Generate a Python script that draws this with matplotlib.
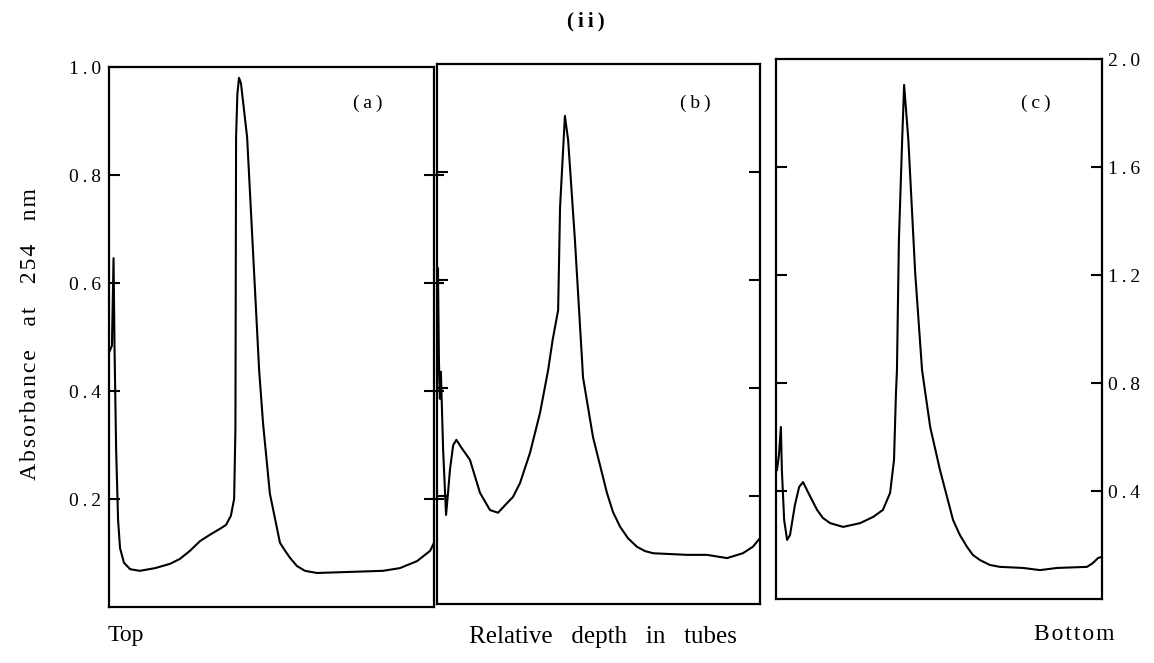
import matplotlib
matplotlib.use("Agg")
import matplotlib.pyplot as plt
import numpy as np

plt.rcParams['font.family'] = ['Liberation Serif', 'DejaVu Serif']

# ---- data (relative depth 0..1, absorbance) ----
a_x = [0.000, 0.009, 0.014, 0.017, 0.022, 0.028, 0.034, 0.046, 0.065, 0.095, 0.142, 0.188,
       0.218, 0.249, 0.280, 0.311, 0.342, 0.360, 0.375, 0.385, 0.389, 0.390, 0.391, 0.395,
       0.400, 0.406, 0.425, 0.462, 0.474, 0.495, 0.526, 0.542, 0.557, 0.578, 0.603, 0.640,
       0.742, 0.843, 0.895, 0.948, 0.988, 1.000]
a_y = [0.471, 0.484, 0.646, 0.480, 0.290, 0.160, 0.109, 0.082, 0.070, 0.067, 0.072, 0.080,
       0.089, 0.104, 0.122, 0.134, 0.145, 0.152, 0.169, 0.200, 0.330, 0.600, 0.870, 0.950,
       0.980, 0.970, 0.870, 0.438, 0.340, 0.210, 0.119, 0.104, 0.091, 0.076, 0.067, 0.063,
       0.065, 0.067, 0.072, 0.085, 0.104, 0.119]

b_x = [0.000, 0.003, 0.006, 0.009, 0.012, 0.019, 0.028, 0.034, 0.040, 0.050, 0.060, 0.075,
       0.102, 0.133, 0.164, 0.189, 0.217, 0.235, 0.257, 0.288, 0.319, 0.344, 0.358, 0.375,
       0.381, 0.396, 0.406, 0.427, 0.449, 0.452, 0.483, 0.526, 0.545, 0.567, 0.591, 0.619,
       0.644, 0.669, 0.774, 0.836, 0.898, 0.947, 0.978, 1.000]
b_y = [0.396, 0.622, 0.450, 0.380, 0.430, 0.285, 0.165, 0.205, 0.248, 0.294, 0.304, 0.290,
       0.267, 0.206, 0.174, 0.169, 0.187, 0.198, 0.224, 0.280, 0.354, 0.433, 0.489, 0.544,
       0.735, 0.904, 0.859, 0.674, 0.452, 0.420, 0.309, 0.206, 0.170, 0.143, 0.122, 0.106,
       0.098, 0.094, 0.091, 0.091, 0.085, 0.094, 0.106, 0.122]

c_x = [0.003, 0.009, 0.015, 0.018, 0.025, 0.034, 0.043, 0.058, 0.071, 0.083, 0.098, 0.126,
       0.144, 0.166, 0.206, 0.258, 0.298, 0.328, 0.350, 0.362, 0.368, 0.371, 0.377, 0.387,
       0.393, 0.406, 0.427, 0.448, 0.473, 0.503, 0.543, 0.564, 0.586, 0.604, 0.626, 0.656,
       0.687, 0.758, 0.810, 0.862, 0.954, 0.972, 0.988, 1.000]
c_y = [0.478, 0.533, 0.637, 0.478, 0.293, 0.219, 0.237, 0.348, 0.415, 0.433, 0.396, 0.330,
       0.300, 0.281, 0.267, 0.281, 0.304, 0.330, 0.393, 0.515, 0.763, 0.848, 1.330, 1.700,
       1.904, 1.700, 1.207, 0.848, 0.637, 0.478, 0.293, 0.237, 0.193, 0.163, 0.144, 0.126,
       0.119, 0.115, 0.107, 0.115, 0.119, 0.133, 0.152, 0.156]

left_ticks = [0.2, 0.4, 0.6, 0.8, 1.0]
left_tick_labels = ['0.2', '0.4', '0.6', '0.8', '1.0']
right_ticks = [0.4, 0.8, 1.2, 1.6, 2.0]
right_tick_labels = ['0.4', '0.8', '1.2', '1.6', '2.0']
panel_labels = ['(a)', '(b)', '(c)']

TS = '\u2009'   # thin space
HS = '\u200a'   # hair space


def track(s, sep=TS):
    """Letter-spaced text."""
    return sep.join(list(s))


def wide(s, n=3, sep=''):
    """Wide gaps between words, optional letter spacing."""
    return (' ' * n).join(sep.join(list(w)) for w in s.split(' '))


W, H = 1154, 663
fig = plt.figure(figsize=(W / 100, H / 100), dpi=100)


def rect(x0, x1, ytop, ybot):
    return [x0 / W, 1 - ybot / H, (x1 - x0) / W, (ybot - ytop) / H]


ax_a = fig.add_axes(rect(109, 434, 67, 607))
ax_b = fig.add_axes(rect(437, 760, 64, 604))
ax_c = fig.add_axes(rect(776, 1102, 59, 599))

lw_curve = 1.5
for ax, xs, ys, ymax in [(ax_a, a_x, a_y, 1.0), (ax_b, b_x, b_y, 1.0), (ax_c, c_x, c_y, 2.0)]:
    ax.plot(xs, ys, color='black', lw=lw_curve, solid_joinstyle='round')
    ax.set_xlim(0, 1)
    ax.set_ylim(0, ymax)
    ax.set_xticks([])
    for s in ax.spines.values():
        s.set_linewidth(1.6)
        s.set_color('black')

fs_tick = 14

# panel a
ax_a.set_yticks(left_ticks)
ax_a.set_yticklabels([track(t) for t in left_tick_labels], fontsize=fs_tick)
ax_a.tick_params(axis='y', which='both', direction='in', length=8, width=1.5,
                 left=True, right=False, pad=6)
ax_a2 = ax_a.twinx()
ax_a2.set_ylim(0, 1.0)
ax_a2.set_yticks([0.2, 0.4, 0.6, 0.8])
ax_a2.set_yticklabels([])
ax_a2.tick_params(axis='y', direction='inout', length=14, width=1.5)
for s in ax_a2.spines.values():
    s.set_visible(False)

# panel b
ax_b.set_yticks([0.2, 0.4, 0.6, 0.8])
ax_b.set_yticklabels([])
ax_b.tick_params(axis='y', direction='in', length=8, width=1.5, left=True, right=True)

# panel c
ax_c.set_yticks([0.4, 0.8, 1.2, 1.6])
ax_c.set_yticklabels([])
ax_c.tick_params(axis='y', direction='in', length=8, width=1.5, left=True, right=False)
ax_c2 = ax_c.twinx()
ax_c2.set_ylim(0, 2.0)
ax_c2.set_yticks(right_ticks)
ax_c2.set_yticklabels([track(t) for t in right_tick_labels], fontsize=fs_tick)
ax_c2.tick_params(axis='y', direction='in', length=8, width=1.5, pad=4)
for s in ax_c2.spines.values():
    s.set_visible(False)

# panel labels
for xc, lab in zip([368, 695, 1036], panel_labels):
    fig.text(xc / W, 1 - 103 / H, track(lab), fontsize=14, ha='center', va='center')

fig.text(586 / W, 1 - 21 / H, track('(ii)'), fontsize=15, fontweight='bold',
         ha='center', va='center')
fig.text(31 / W, 1 - 334 / H, wide('Absorbance at 254 nm', 4, HS), fontsize=17,
         rotation=90, ha='center', va='center')
fig.text(108 / W, 1 - 636 / H, 'Top', fontsize=17, ha='left', va='center')
fig.text(603 / W, 1 - 637 / H, wide('Relative depth in tubes', 3), fontsize=18,
         ha='center', va='center')
fig.text(1074 / W, 1 - 634 / H, track('Bottom', HS), fontsize=17, ha='center', va='center')

fig.savefig('out.png', dpi=100)
